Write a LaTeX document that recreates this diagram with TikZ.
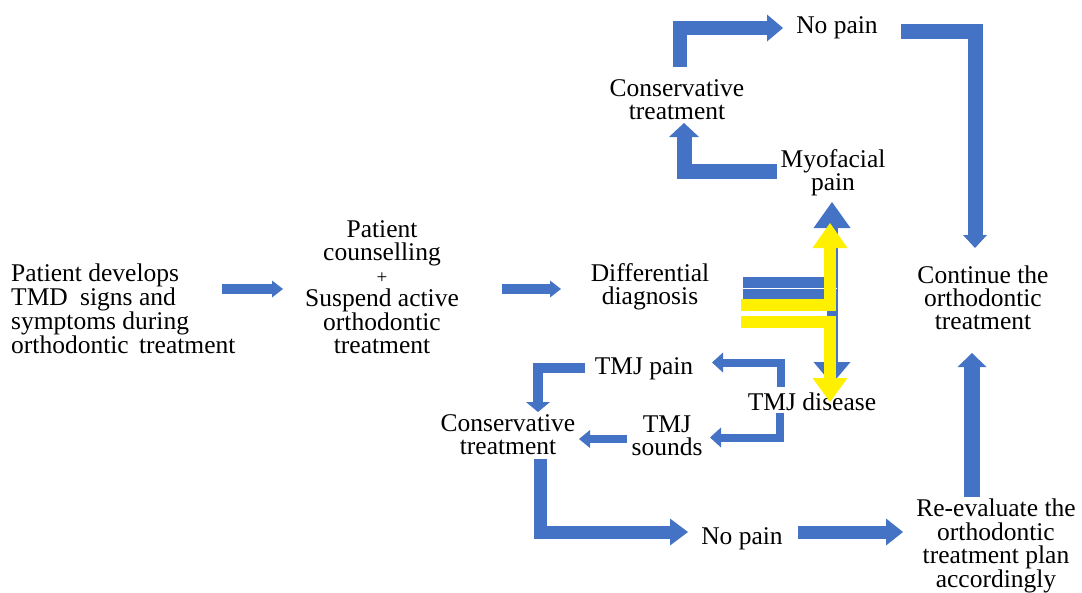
\documentclass[tikz,border=0pt]{standalone}
\usepackage{fontspec}
\setmainfont{Liberation Serif}
\usetikzlibrary{arrows.meta}
\definecolor{flowblue}{RGB}{68,114,196}
\definecolor{hiyellow}{RGB}{255,240,0}
\tikzset{
  lbl/.style={inner sep=0pt, align=center, font=\fontsize{25.5}{23}\selectfont},
  blk/.style n args={4}{draw=#1, line width=#2, line join=miter,
    -{Triangle[width=#3, length=#4, line width=0pt]}},
}
\begin{document}
\begin{tikzpicture}[x=1pt,y=-1pt]
\useasboundingbox (0,0) rectangle (1082,592);
% text nodes
\node[lbl, align=left, anchor=west] (dev) at (11,309) {Patient develops\\TMD\hspace{6pt} signs and\\symptoms during\\orthodontic\hspace{4pt} treatment};
\node[lbl] (couns) at (382,287) {Patient\\counselling\\{\fontsize{19}{23}\selectfont +}\\Suspend active\\orthodontic\\treatment};
\node[lbl] (diff) at (650,287) {Differential\\diagnosis};
\node[lbl] (myo) at (833,173) {Myofacial\\pain};
\node[lbl] (cons1) at (677,100) {Conservative\\treatment};
\node[lbl] (np1) at (837,28) {No pain};
\node[lbl] (cont) at (983,298) {Continue the\\orthodontic\\treatment};
\node[lbl] (tpain) at (644,369) {TMJ pain};
\node[lbl] (tdis) at (812,402) {TMJ disease};
\node[lbl] (tsnd) at (667,436) {TMJ\\sounds};
\node[lbl] (cons2) at (508,435) {Conservative\\treatment};
\node[lbl] (np2) at (742,539) {No pain};
\node[lbl, font=\fontsize{25.5}{23.5}\selectfont] (reev) at (996,546) {Re-evaluate the\\orthodontic\\treatment plan\\accordingly};
% connector end points
\coordinate (a1s) at (222,289);   \coordinate (a1e) at (283,289);
\coordinate (a2s) at (502,289);   \coordinate (a2e) at (561,289);
\coordinate (a3s) at (680,67);    \coordinate (a3e) at (783,28);
\coordinate (a4s) at (777,171);   \coordinate (a4e) at (684,123);
\coordinate (a5s) at (901,31);    \coordinate (a5e) at (975,248);
\coordinate (a6s) at (972,497);   \coordinate (a6e) at (972,353);
\coordinate (a7s) at (540,459);   \coordinate (a7e) at (688,532);
\coordinate (a8s) at (798,532);   \coordinate (a8e) at (903,532);
\coordinate (a9s) at (780.5,387); \coordinate (a9e) at (712,362.5);
\coordinate (a10s) at (780,413);  \coordinate (a10e) at (710,437.5);
\coordinate (a11s) at (627,439);  \coordinate (a11e) at (579,439);
\coordinate (a12s) at (585,368);  \coordinate (a12e) at (538,412);
\coordinate (b1s) at (743,282.5); \coordinate (b1e) at (832,202);
\coordinate (b2s) at (743,293.5); \coordinate (b2e) at (832,384);
\coordinate (y1s) at (741,304.5); \coordinate (y1e) at (830,223);
\coordinate (y2s) at (741,321.5); \coordinate (y2e) at (830,402);
% blue block arrows
\draw[blk={flowblue}{10pt}{17pt}{11pt}] (a1s) -- (a1e);
\draw[blk={flowblue}{10pt}{17pt}{11pt}] (a2s) -- (a2e);
\draw[blk={flowblue}{14pt}{27pt}{16pt}] (a3s) |- (a3e);
\draw[blk={flowblue}{15pt}{30pt}{14pt}] (a4s) -| (a4e);
\draw[blk={flowblue}{15pt}{24pt}{13pt}] (a5s) -| (a5e);
\draw[blk={flowblue}{16pt}{29pt}{14pt}] (a6s) -- (a6e);
\draw[blk={flowblue}{13pt}{27pt}{18pt}] (a7s) |- (a7e);
\draw[blk={flowblue}{13pt}{27pt}{17pt}] (a8s) -- (a8e);
\draw[blk={flowblue}{8pt}{20pt}{11pt}] (a9s) |- (a9e);
\draw[blk={flowblue}{8pt}{20pt}{11pt}] (a10s) |- (a10e);
\draw[blk={flowblue}{8pt}{18pt}{11pt}] (a11s) -- (a11e);
\draw[blk={flowblue}{10pt}{24pt}{10pt}] (a12s) -| (a12e);
% central split arrows
\draw[blk={flowblue}{11pt}{37pt}{26pt}] (b1s) -| (b1e);
\draw[blk={flowblue}{11pt}{37pt}{22pt}] (b2s) -| (b2e);
\draw[white, line width=1pt] (b1s) ++(0,5.5) -- ++(94,0);
\draw[blk={hiyellow}{12pt}{35pt}{25pt}] (y1s) -| (y1e);
\draw[blk={hiyellow}{12pt}{35pt}{24pt}] (y2s) -| (y2e);
\end{tikzpicture}
\end{document}
